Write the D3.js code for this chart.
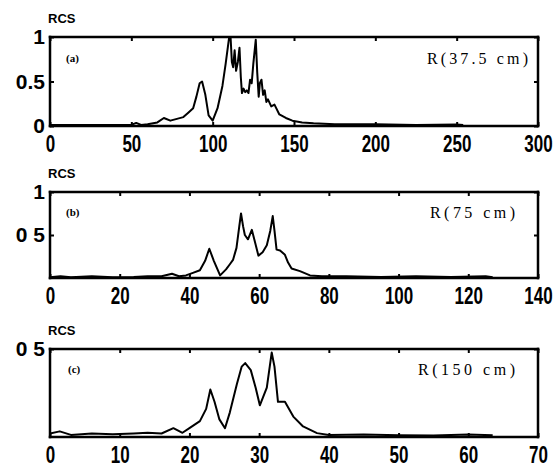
<!DOCTYPE html>
<html>
<head>
<meta charset="utf-8">
<script src="https://cdnjs.cloudflare.com/ajax/libs/d3/7.8.5/d3.min.js"></script>
<style>
  body { margin: 0; background: #fff; }
  svg text { fill: #000; }
  .tick text { font-family: "Liberation Sans", Arial, sans-serif; font-weight: bold; }
</style>
</head>
<body>
<svg id="chart" width="554" height="469"></svg>
<script>
// RCS vs range bin, three resolutions
var rcsA = [[0,0.01],[10,0.01],[20,0.012],[30,0.01],[40,0.01],[50,0.012],[53,0.035],[56,0.012],[60,0.02],[66,0.04],[70,0.09],[74,0.06],[78,0.08],[82,0.1],[85,0.15],[88,0.2],[90,0.33],[92,0.48],[93.5,0.5],[95.5,0.35],[97.5,0.12],[100,0.06],[103,0.2],[106,0.45],[108,0.7],[110,0.98],[111,1.0],[111.8,0.72],[112.6,0.66],[113.5,0.85],[114.4,0.62],[115.5,0.72],[116.5,0.88],[117.3,0.55],[118,0.37],[119,0.42],[120,0.38],[121,0.4],[122,0.37],[123,0.52],[124,0.48],[125,0.7],[126.5,0.97],[127.4,0.6],[128.3,0.33],[129,0.48],[130,0.52],[131,0.35],[132,0.4],[133,0.27],[134,0.3],[136,0.22],[138,0.24],[141,0.13],[145,0.09],[149,0.06],[155,0.04],[162,0.03],[175,0.02],[200,0.02],[225,0.012],[250,0.018],[254,0.01]];

var rcsB = [[0,0.01],[3,0.02],[6,0.01],[12,0.02],[18,0.01],[24,0.012],[28,0.02],[32,0.02],[35,0.05],[37,0.02],[39,0.03],[41,0.06],[43,0.09],[44.5,0.2],[45.7,0.34],[47,0.2],[48.8,0.03],[50.5,0.1],[51.6,0.16],[52.5,0.21],[53.5,0.35],[54.3,0.6],[54.8,0.75],[55.4,0.6],[55.9,0.5],[56.8,0.45],[57.9,0.56],[58.6,0.45],[59.8,0.26],[61,0.3],[62.2,0.38],[63.2,0.55],[63.9,0.72],[64.4,0.55],[65,0.33],[66,0.32],[67.4,0.27],[68.3,0.18],[69.3,0.11],[71.7,0.08],[74.6,0.03],[78,0.02],[85,0.02],[95,0.012],[105,0.02],[115,0.012],[125,0.02],[127,0.01]];

var rcsC = [[0,0.02],[1.4,0.032],[3,0.012],[6,0.02],[9,0.016],[12,0.02],[14,0.024],[16,0.02],[17.7,0.05],[19,0.024],[20,0.05],[21.5,0.09],[22.4,0.16],[23,0.27],[23.6,0.2],[24.3,0.1],[25.1,0.05],[25.8,0.14],[26.8,0.3],[27.5,0.4],[28,0.42],[28.8,0.38],[29.5,0.28],[30.1,0.18],[31.1,0.28],[31.8,0.48],[32.2,0.4],[32.7,0.2],[33.7,0.2],[34.9,0.116],[36.3,0.06],[38.3,0.022],[40,0.012],[45,0.014],[50,0.01],[55,0.008],[60,0.014],[63.5,0.01]];

var xTicksA = [0, 50, 100, 150, 200, 250, 300];
var xTicksB = [0, 20, 40, 60, 80, 100, 120, 140];
var xTicksC = [0, 10, 20, 30, 40, 50, 60, 70];
var yTicksA = [0, 0.5, 1];
var yTicksB = [0.5, 1];
var yTicksC = [0.5];
var yLabelsA = ['0', '0.5', '1'];
var yLabelsB = ['0 5', '1'];
var yLabelsC = ['0 5'];
var panelTags = ['(a)', '(b)', '(c)'];
var rangeTags = ['R(37.5 cm)', 'R(75 cm)', 'R(150 cm)'];

var svg = d3.select('#chart');
var left = 50, right = 538;
var bw = 2.5; // frame line width

var panels = [
  {data: rcsA, xMax: 300, yMax: 1, top: 37, bottom: 126, xt: xTicksA, yt: yTicksA, yl: yLabelsA, tx: 66, rx: 427, rw: 101, ty: 58},
  {data: rcsB, xMax: 140, yMax: 1, top: 192, bottom: 278, xt: xTicksB, yt: yTicksB, yl: yLabelsB, tx: 66, rx: 430, rw: 85, ty: 212},
  {data: rcsC, xMax: 70, yMax: 0.5, top: 349, bottom: 437, xt: xTicksC, yt: yTicksC, yl: yLabelsC, tx: 68, rx: 418, rw: 97, ty: 369}
];

panels.forEach(function(p, i) {
  var x = d3.scaleLinear().domain([0, p.xMax]).range([left, right]);
  var y = d3.scaleLinear().domain([0, p.yMax]).range([p.bottom, p.top]);
  var g = svg.append('g');

  // frame edges as thin filled bars
  var x0 = x(0), x1 = x(p.xMax), y0 = y(0), y1 = y(p.yMax);
  var bars = [
    [x0 - bw / 2, y1 - bw / 2, x1 - x0 + bw, bw],
    [x0 - bw / 2, y0 - bw / 2, x1 - x0 + bw, bw],
    [x0 - bw / 2, y1 - bw / 2, bw, y0 - y1 + bw],
    [x1 - bw / 2, y1 - bw / 2, bw, y0 - y1 + bw]
  ];
  g.selectAll('rect.frame').data(bars).enter().append('rect')
      .attr('class', 'frame')
      .attr('x', function(d) { return d[0]; })
      .attr('y', function(d) { return d[1]; })
      .attr('width', function(d) { return d[2]; })
      .attr('height', function(d) { return d[3]; })
      .attr('fill', 'black');

  // data line
  g.append('path')
      .datum(p.data)
      .attr('fill', 'none')
      .attr('stroke', 'black')
      .attr('stroke-width', 2)
      .attr('stroke-linejoin', 'round')
      .attr('d', d3.line().x(function(d) { return x(d[0]); }).y(function(d) { return y(d[1]); }));

  // bottom + top axes (ticks point inward)
  var xb = g.append('g').attr('transform', 'translate(0,' + p.bottom + ')')
      .call(d3.axisBottom(x).tickValues(p.xt).tickSize(-4).tickPadding(8));
  xb.selectAll('text').style('font-size', '20px').attr('transform', 'scale(0.85,1.15)');
  g.append('g').attr('transform', 'translate(0,' + p.top + ')')
      .call(d3.axisTop(x).tickValues(p.xt).tickSize(-4).tickFormat(''));

  // left + right axes
  var yl = g.append('g').attr('transform', 'translate(' + left + ',0)')
      .call(d3.axisLeft(y).tickValues(p.yt).tickSize(-4).tickPadding(5)
        .tickFormat(function(d, k) { return p.yl[k]; }));
  yl.selectAll('text').style('font-size', '21px');
  g.append('g').attr('transform', 'translate(' + right + ',0)')
      .call(d3.axisRight(y).tickValues(p.yt).tickSize(-4).tickFormat(''));

  g.selectAll('.domain').remove();
  g.selectAll('.tick line').attr('stroke', 'black').attr('stroke-width', 2);

  g.append('text')
      .attr('x', 48).attr('y', p.top - 14)
      .style('font', 'bold 13px "Liberation Sans", Arial, sans-serif')
      .text('RCS');

  g.append('text')
      .attr('x', p.tx).attr('y', p.ty + 4)
      .style('font', 'bold 11px "Liberation Serif", serif')
      .text(panelTags[i]);

  g.append('text')
      .attr('x', p.rx).attr('y', p.ty + 6)
      .attr('textLength', p.rw)
      .style('font', '16px "Liberation Serif", serif')
      .text(rangeTags[i]);
});
</script>
</body>
</html>
